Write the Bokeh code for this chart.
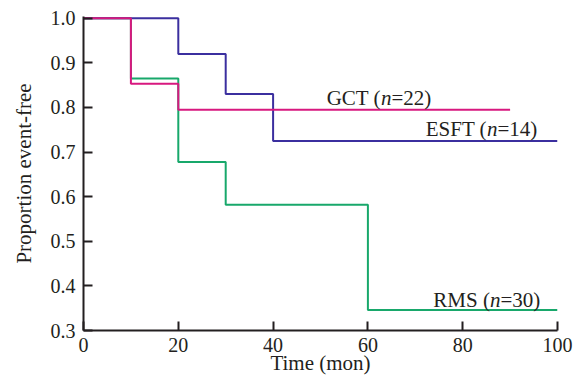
from bokeh.plotting import figure
from bokeh.models import Range1d, Label, FixedTicker
from bokeh.embed import file_html
from bokeh.resources import INLINE

# Data (Kaplan-Meier style step curves)
esft_t = [0, 20, 30, 40, 100]
esft_s = [1.0, 0.92, 0.83, 0.725, 0.725]
gct_t = [0, 10, 20, 90]
gct_s = [1.0, 0.853, 0.795, 0.795]
rms_t = [0, 10, 20, 30, 60, 100]
rms_s = [1.0, 0.865, 0.678, 0.582, 0.346, 0.346]

x_ticks = [0, 20, 40, 60, 80, 100]
y_ticks = [0.3, 0.4, 0.5, 0.6, 0.7, 0.8, 0.9, 1.0]

# label pieces: (prefix, italic, suffix, x, y)
labels = [
    ("GCT (", "n", "=22)", 51.3, 0.822),
    ("ESFT (", "n", "=14)", 72.2, 0.751),
    ("RMS (", "n", "=30)", 73.8, 0.369),
]
x_title = "Time (mon)"
y_title = "Proportion event-free"

FONT = "Liberation Serif"
INK = "#231f20"
C_ESFT = "#3b2f9f"
C_GCT = "#d8187f"
C_RMS = "#18a86b"

p = figure(width=577, height=378, output_backend="svg", toolbar_location=None,
           x_range=Range1d(0, 100), y_range=Range1d(0.3, 1.004),
           min_border_left=83, min_border_right=20, min_border_top=16,
           min_border_bottom=48)
p.outline_line_color = None
p.grid.visible = False
p.background_fill_color = "white"

p.step(rms_t, rms_s, mode="after", line_color=C_RMS, line_width=2)
p.step(esft_t, esft_s, mode="after", line_color=C_ESFT, line_width=2)
p.step(gct_t, gct_s, mode="after", line_color=C_GCT, line_width=2)

p.xaxis.ticker = FixedTicker(ticks=x_ticks)
p.yaxis.ticker = FixedTicker(ticks=y_ticks)
p.xaxis.major_label_overrides = {t: str(t) for t in x_ticks}
p.yaxis.major_label_overrides = {t: f"{t:.1f}" for t in y_ticks}
for ax in (p.xaxis, p.yaxis):
    ax.axis_line_width = 2
    ax.axis_line_color = INK
    ax.major_tick_line_width = 2
    ax.major_tick_line_color = INK
    ax.major_tick_in = 9
    ax.major_tick_out = 0
    ax.minor_tick_line_color = None
    ax.major_label_text_font = FONT
    ax.major_label_text_font_size = "20px"
    ax.major_label_text_color = INK
    ax.axis_label_text_font = FONT
    ax.axis_label_text_font_size = "21px"
    ax.axis_label_text_font_style = "normal"
    ax.axis_label_text_color = INK
p.xaxis.axis_label = x_title
p.yaxis.axis_label = y_title
p.xaxis.major_label_standoff = 7
p.xaxis.axis_label_standoff = -4
p.yaxis.major_label_standoff = 8
p.yaxis.axis_label_standoff = 12

# approximate Times advance widths (em) for laying out mixed-style labels
W = {"G": .722, "C": .667, "T": .611, " ": .25, "(": .333, ")": .333, "=": .564,
     "E": .611, "S": .556, "F": .556, "R": .667, "M": .889, "n": .5}
for c in "0123456789":
    W[c] = .5
FS = 21

def tw(s):
    return sum(W.get(c, .5) for c in s) * FS

for pre, it, suf, x, y in labels:
    off = 0
    for txt, style in ((pre, "normal"), (it, "italic"), (suf, "normal")):
        p.add_layout(Label(x=x, y=y, x_offset=off, text=txt, text_font=FONT,
                           text_font_size=f"{FS}px", text_font_style=style,
                           text_color=INK, text_baseline="alphabetic",
                           text_align="left"))
        off += tw(txt)

open("out.html", "w").write(file_html(p, INLINE))
